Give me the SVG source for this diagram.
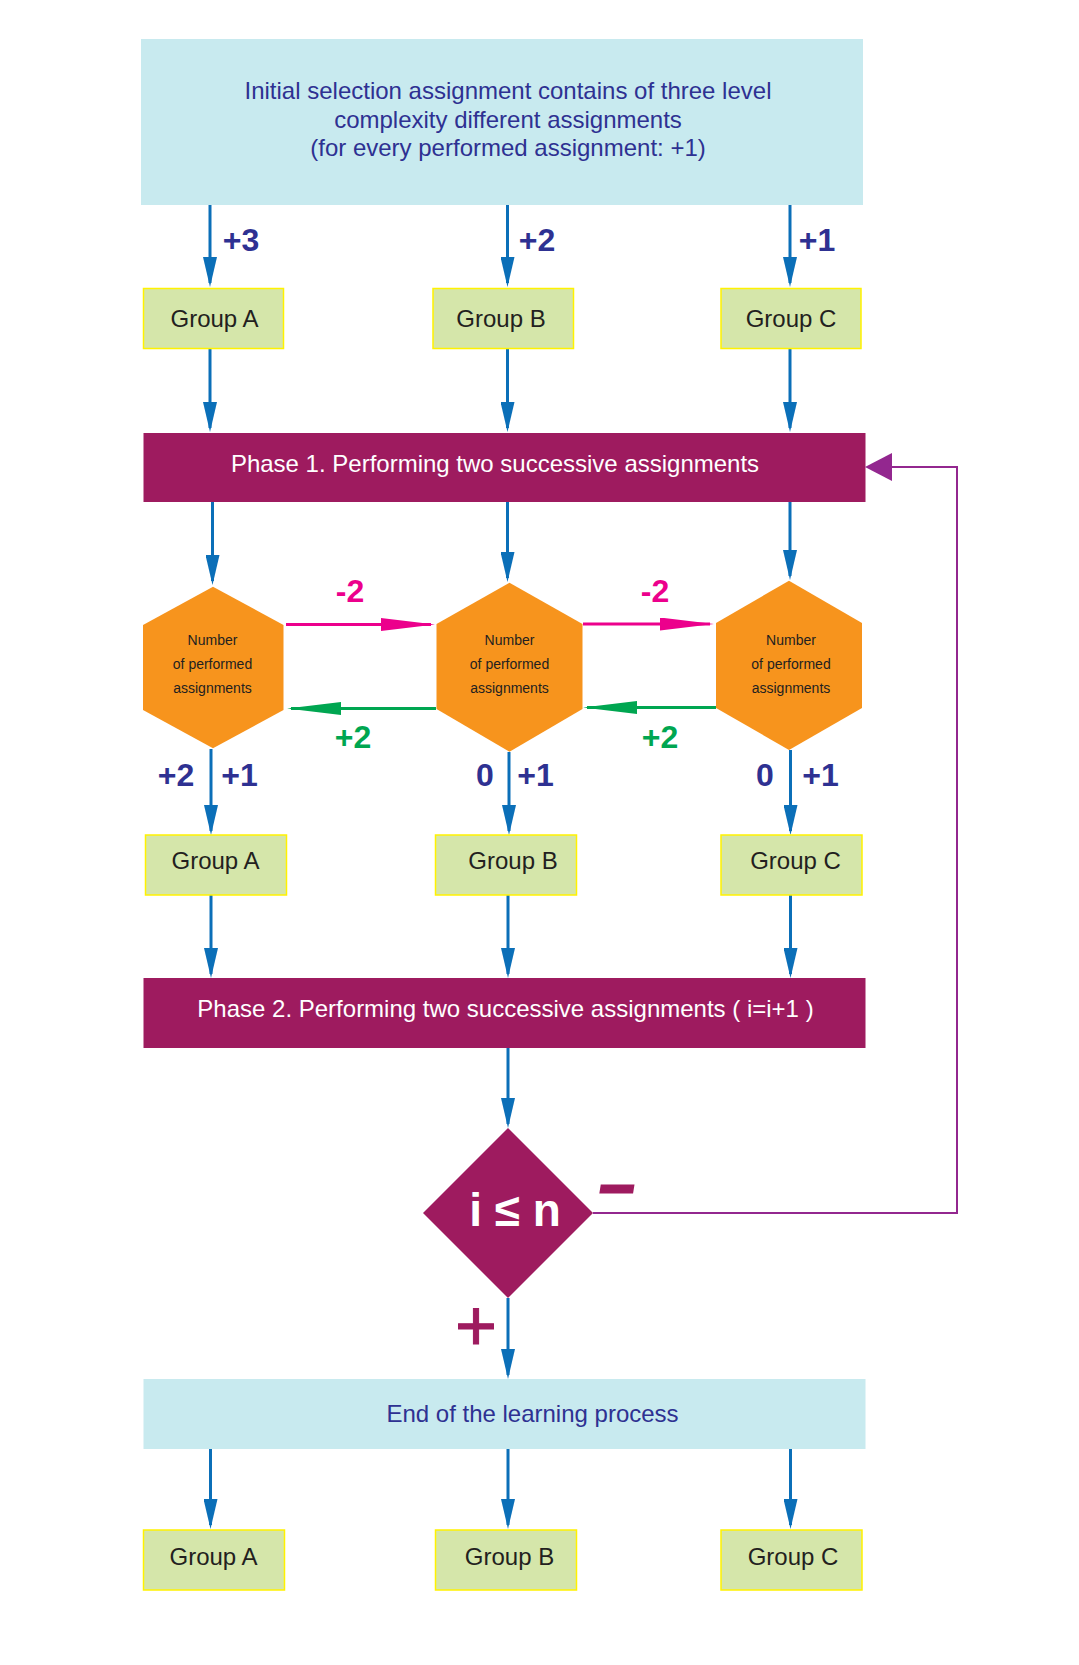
<svg xmlns="http://www.w3.org/2000/svg" width="1079" height="1665" viewBox="0 0 1079 1665">
<style>
.t{font-family:"Liberation Sans",Arial,sans-serif}
.cyan{fill:#C8EAEF}
.grp{fill:#D5E6AA;stroke:#FFF200;stroke-width:1.5}
.phase{fill:#9E1B5F}
.hex{fill:#F7941D}
.gt{font-size:24px;fill:#231F20;text-anchor:middle}
.bt{font-size:24px;fill:#2E3192;text-anchor:middle}
.wt{font-size:24px;fill:#FFFFFF;text-anchor:middle}
.ht{font-size:14px;fill:#231F20;text-anchor:middle}
.lb{font-size:32px;font-weight:bold;fill:#2E3192;text-anchor:middle}
.pk{font-size:32px;font-weight:bold;fill:#EC008C;text-anchor:middle}
.gr{font-size:32px;font-weight:bold;fill:#00A651;text-anchor:middle}
.blue{stroke:#0B6FB8;stroke-width:3;fill:none}
.pinkl{stroke:#EC008C;stroke-width:3;fill:none}
.greenl{stroke:#00A651;stroke-width:3;fill:none}
.fb{stroke:#93278F;stroke-width:2;fill:none}
</style>
<defs>
<marker id="ab" markerUnits="userSpaceOnUse" markerWidth="30" markerHeight="14" refX="26" refY="7" orient="auto" viewBox="0 0 30 14">
<path d="M0,0 L30,7 L0,14 z" fill="#0B6FB8"/>
</marker>
<marker id="ap" markerUnits="userSpaceOnUse" markerWidth="54" markerHeight="13" refX="50" refY="6.5" orient="auto" viewBox="0 0 54 13">
<path d="M0,0 L54,6.5 L0,13 z" fill="#EC008C"/>
</marker>
<marker id="ag" markerUnits="userSpaceOnUse" markerWidth="54" markerHeight="13" refX="50" refY="6.5" orient="auto" viewBox="0 0 54 13">
<path d="M0,0 L54,6.5 L0,13 z" fill="#00A651"/>
</marker>
<marker id="av" markerUnits="userSpaceOnUse" markerWidth="27" markerHeight="28" refX="25" refY="14" orient="auto" viewBox="0 0 27 28">
<path d="M0,0 L27,14 L0,28 z" fill="#93278F"/>
</marker>
</defs>
<rect width="1079" height="1665" fill="#FFFFFF"/>

<g id="connectors">
<line class="blue" x1="210" y1="205" x2="210" y2="283" marker-end="url(#ab)"/>
<line class="blue" x1="507.5" y1="205" x2="507.5" y2="283" marker-end="url(#ab)"/>
<line class="blue" x1="790" y1="205" x2="790" y2="283" marker-end="url(#ab)"/>
<line class="blue" x1="210" y1="348" x2="210" y2="428" marker-end="url(#ab)"/>
<line class="blue" x1="507.5" y1="348" x2="507.5" y2="428" marker-end="url(#ab)"/>
<line class="blue" x1="790" y1="348" x2="790" y2="428" marker-end="url(#ab)"/>
<line class="blue" x1="212.5" y1="502" x2="212.5" y2="581" marker-end="url(#ab)"/>
<line class="blue" x1="507.5" y1="502" x2="507.5" y2="578" marker-end="url(#ab)"/>
<line class="blue" x1="790" y1="502" x2="790" y2="576" marker-end="url(#ab)"/>
<line class="pinkl" x1="286" y1="624.5" x2="431" y2="624.5" marker-end="url(#ap)"/>
<line class="pinkl" x1="583" y1="624" x2="710" y2="624" marker-end="url(#ap)"/>
<line class="greenl" x1="436" y1="708.5" x2="291" y2="708.5" marker-end="url(#ag)"/>
<line class="greenl" x1="716" y1="707.5" x2="587" y2="707.5" marker-end="url(#ag)"/>
<line class="blue" x1="211" y1="749" x2="211" y2="831" marker-end="url(#ab)"/>
<line class="blue" x1="509" y1="752" x2="509" y2="831" marker-end="url(#ab)"/>
<line class="blue" x1="790.5" y1="750" x2="790.5" y2="831" marker-end="url(#ab)"/>
<line class="blue" x1="211" y1="895" x2="211" y2="974" marker-end="url(#ab)"/>
<line class="blue" x1="508" y1="895" x2="508" y2="974" marker-end="url(#ab)"/>
<line class="blue" x1="790.5" y1="895" x2="790.5" y2="974" marker-end="url(#ab)"/>
<line class="blue" x1="508" y1="1048" x2="508" y2="1124" marker-end="url(#ab)"/>
<line class="blue" x1="508" y1="1298" x2="508" y2="1375" marker-end="url(#ab)"/>
<line class="blue" x1="210.5" y1="1449" x2="210.5" y2="1525" marker-end="url(#ab)"/>
<line class="blue" x1="508" y1="1449" x2="508" y2="1525" marker-end="url(#ab)"/>
<line class="blue" x1="790.5" y1="1449" x2="790.5" y2="1525" marker-end="url(#ab)"/>
<polyline class="fb" points="593,1213 957,1213 957,467 867,467" marker-end="url(#av)"/>
<text class="t lb" x="241" y="251">+3</text>
<text class="t lb" x="537" y="251">+2</text>
<text class="t lb" x="817" y="251">+1</text>
<text class="t pk" x="350" y="601.5">-2</text>
<text class="t pk" x="655" y="601.5">-2</text>
<text class="t gr" x="353" y="748">+2</text>
<text class="t gr" x="660" y="748">+2</text>
<text class="t lb" x="176" y="785.5">+2</text>
<text class="t lb" x="239.5" y="785.5">+1</text>
<text class="t lb" x="485" y="785.5">0</text>
<text class="t lb" x="535.5" y="785.5">+1</text>
<text class="t lb" x="765" y="785.5">0</text>
<text class="t lb" x="820.5" y="785.5">+1</text>
<text class="t" x="617" y="1205" font-size="62" font-weight="bold" font-style="italic" fill="#9E1B5F" stroke="#9E1B5F" stroke-width="3" text-anchor="middle">–</text>
<text class="t" x="476" y="1350" font-size="72" fill="#9E1B5F" stroke="#9E1B5F" stroke-width="1" text-anchor="middle">+</text>
</g>

<g id="start">
<rect class="cyan" x="141" y="39" width="722" height="166"/>
<text class="t bt" x="508" y="99">Initial selection assignment contains of three level</text>
<text class="t bt" x="508" y="128">complexity different assignments</text>
<text class="t bt" x="508" y="156">(for every performed assignment: +1)</text>
</g>

<g id="groupA1"><rect class="grp" x="143.5" y="288.5" width="140" height="60"/><text class="t gt" x="214.5" y="327">Group A</text></g>
<g id="groupB1"><rect class="grp" x="433" y="288.5" width="140.5" height="60"/><text class="t gt" x="501" y="327">Group B</text></g>
<g id="groupC1"><rect class="grp" x="721" y="288.5" width="140" height="60"/><text class="t gt" x="791" y="327">Group C</text></g>

<g id="phase1">
<rect class="phase" x="143.5" y="433" width="722" height="69"/>
<text class="t wt" x="495" y="471.5">Phase 1. Performing two successive assignments</text>
</g>

<g id="hexA">
<polygon class="hex" points="213,586.7 283.5,625 283.5,710 213,748.3 143,710 143,625"/>
<text class="t ht" x="212.5" y="645">Number</text>
<text class="t ht" x="212.5" y="669">of performed</text>
<text class="t ht" x="212.5" y="693">assignments</text>
</g>
<g id="hexB">
<polygon class="hex" points="509.5,582.7 582.5,624 582.5,709 509.5,751.7 436.5,709 436.5,624"/>
<text class="t ht" x="509.5" y="645">Number</text>
<text class="t ht" x="509.5" y="669">of performed</text>
<text class="t ht" x="509.5" y="693">assignments</text>
</g>
<g id="hexC">
<polygon class="hex" points="789,580.7 862,623 862,708 789,750 716,708 716,623"/>
<text class="t ht" x="791" y="645">Number</text>
<text class="t ht" x="791" y="669">of performed</text>
<text class="t ht" x="791" y="693">assignments</text>
</g>

<g id="groupA2"><rect class="grp" x="145.5" y="835" width="141" height="60"/><text class="t gt" x="215.5" y="869">Group A</text></g>
<g id="groupB2"><rect class="grp" x="435.5" y="835" width="141" height="60"/><text class="t gt" x="513" y="869">Group B</text></g>
<g id="groupC2"><rect class="grp" x="721" y="835" width="141" height="60"/><text class="t gt" x="795.5" y="869">Group C</text></g>

<g id="phase2">
<rect class="phase" x="143.5" y="978" width="722" height="70"/>
<text class="t wt" x="505.5" y="1017">Phase 2. Performing two successive assignments ( i=i+1 )</text>
</g>

<g id="decision">
<polygon class="phase" points="508,1128 593,1213 508,1298 423,1213"/>
<text class="t" x="515" y="1226" font-size="46" font-weight="bold" fill="#FFFFFF" text-anchor="middle">i ≤ n</text>
</g>

<g id="end">
<rect class="cyan" x="143.5" y="1379" width="722" height="70"/>
<text class="t bt" x="532.5" y="1421.5">End of the learning process</text>
</g>

<g id="groupA3"><rect class="grp" x="143.5" y="1530" width="141" height="60"/><text class="t gt" x="213.5" y="1565">Group A</text></g>
<g id="groupB3"><rect class="grp" x="435.5" y="1530" width="141" height="60"/><text class="t gt" x="509.5" y="1565">Group B</text></g>
<g id="groupC3"><rect class="grp" x="721" y="1530" width="141" height="60"/><text class="t gt" x="793" y="1565">Group C</text></g>
</svg>
